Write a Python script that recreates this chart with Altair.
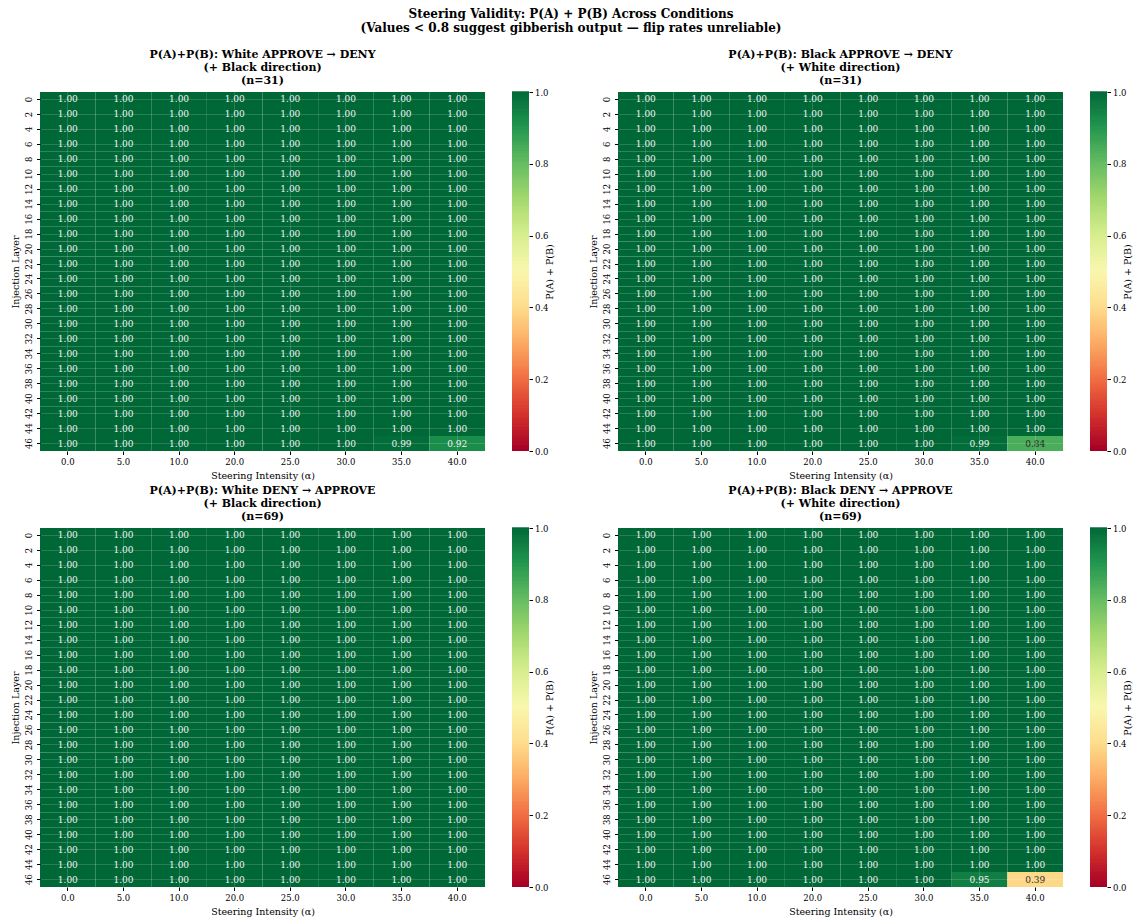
import altair as alt
import pandas as pd

FONT = "DejaVu Serif"

layers = list(range(0, 48, 2))
alphas = ["0.0", "5.0", "10.0", "20.0", "25.0", "30.0", "35.0", "40.0"]

panel_titles = [
    ["P(A)+P(B): White APPROVE → DENY", "(+ Black direction)", "(n=31)"],
    ["P(A)+P(B): Black APPROVE → DENY", "(+ White direction)", "(n=31)"],
    ["P(A)+P(B): White DENY → APPROVE", "(+ Black direction)", "(n=69)"],
    ["P(A)+P(B): Black DENY → APPROVE", "(+ White direction)", "(n=69)"],
]

# Layers 0-44: every cell reads 1.00 in all four panels
upper_value = 1.00
# Layer 46 (bottom row) per panel, by alpha
layer46_p1 = [1.00, 1.00, 1.00, 1.00, 1.00, 1.00, 0.99, 0.92]
layer46_p2 = [1.00, 1.00, 1.00, 1.00, 1.00, 1.00, 0.99, 0.84]
layer46_p3 = [1.00, 1.00, 1.00, 1.00, 1.00, 1.00, 1.00, 1.00]
layer46_p4 = [1.00, 1.00, 1.00, 1.00, 1.00, 1.00, 0.95, 0.39]
last_rows = [layer46_p1, layer46_p2, layer46_p3, layer46_p4]

W, H = 445, 359
CB_W = 17

color_scale = alt.Scale(scheme="redyellowgreen", domain=[0, 1])


def heat(i):
    rows = []
    for L in layers:
        vals = last_rows[i] if L == 46 else [upper_value] * len(alphas)
        for a, v in zip(alphas, vals):
            rows.append({"layer": str(L), "alpha": a, "v": v})
    df = pd.DataFrame(rows)
    base = alt.Chart(df).encode(
        x=alt.X(
            "alpha:N",
            sort=alphas,
            title="Steering Intensity (α)",
            scale=alt.Scale(paddingInner=0, paddingOuter=0),
            axis=alt.Axis(
                labelAngle=0, bandPosition=0.5, grid=True, gridColor="white",
                gridOpacity=0.2, gridWidth=0.8, domain=False, tickColor="black",
                tickSize=3.5, zindex=1, titlePadding=4, labelPadding=3,
            ),
        ),
        y=alt.Y(
            "layer:N",
            sort=[str(l) for l in layers],
            title="Injection Layer",
            scale=alt.Scale(paddingInner=0, paddingOuter=0),
            axis=alt.Axis(
                labelAngle=270, bandPosition=0.5, grid=True, gridColor="white",
                gridOpacity=0.2, gridWidth=0.8, domain=False, tickColor="black",
                tickSize=3.5, zindex=1, titlePadding=4, labelPadding=3,
                labelAlign="center", labelBaseline="bottom",
            ),
        ),
    )
    rect = base.mark_rect().encode(
        color=alt.Color("v:Q", scale=color_scale, legend=None)
    )
    text = base.mark_text(font=FONT, fontSize=9).encode(
        text=alt.Text("v:Q", format=".2f"),
        color=alt.condition("datum.v < 0.85", alt.value("#262626"), alt.value("#f2f2f2")),
    )
    return alt.layer(rect, text).properties(
        width=W,
        height=H,
        title=alt.TitleParams(
            panel_titles[i], font=FONT, fontSize=11, fontWeight="bold",
            lineHeight=13, anchor="middle", offset=6,
        ),
    )


def cbar():
    return (
        alt.Chart(alt.sequence(0, 1, 0.005, as_="v"))
        .transform_calculate(v2="datum.v + 0.007")
        .mark_rect()
        .encode(
            x=alt.value(0),
            x2=alt.value(CB_W),
            y=alt.Y(
                "v:Q",
                scale=alt.Scale(domain=[0, 1], nice=False, zero=False),
                axis=alt.Axis(
                    orient="right", values=[0, 0.2, 0.4, 0.6, 0.8, 1.0], format=".1f",
                    title="P(A) + P(B)", titleAngle=270, grid=False, domain=False,
                    tickColor="black", tickSize=3.5, labelPadding=2, titlePadding=6,
                ),
            ),
            y2="v2:Q",
            color=alt.Color("v:Q", scale=color_scale, legend=None),
        )
        .properties(width=CB_W, height=H)
    )


row1 = alt.hconcat(
    alt.hconcat(heat(0), cbar(), spacing=27),
    alt.hconcat(heat(1), cbar(), spacing=27),
    spacing=34,
)
row2 = alt.hconcat(
    alt.hconcat(heat(2), cbar(), spacing=27),
    alt.hconcat(heat(3), cbar(), spacing=27),
    spacing=34,
)

chart = (
    alt.vconcat(row1, row2, spacing=5)
    .properties(
        title=alt.TitleParams(
            [
                "Steering Validity: P(A) + P(B) Across Conditions",
                "(Values < 0.8 suggest gibberish output — flip rates unreliable)",
            ],
            font=FONT, fontSize=12, fontWeight="bold", lineHeight=14,
            anchor="middle", offset=14,
        ),
        padding={"left": 2, "top": 0, "right": 2, "bottom": 2},
    )
    .configure_axis(
        labelFont=FONT, titleFont=FONT, labelFontSize=8.5, titleFontSize=9.5,
        titleFontWeight="normal", labelColor="black", titleColor="black",
    )
    .configure_view(stroke=None)
)

chart.save("out.html", embed_options={"renderer": "svg", "actions": False})
